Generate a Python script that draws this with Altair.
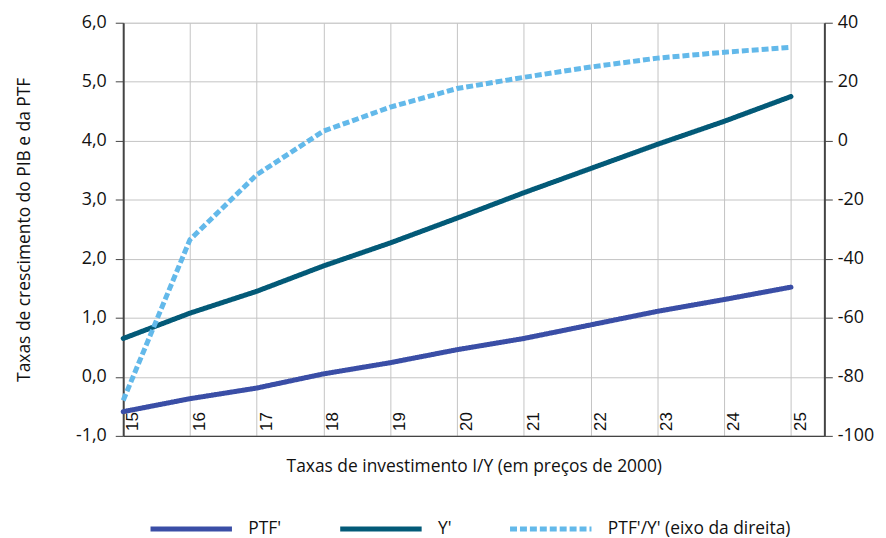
import altair as alt
import pandas as pd

years = [15, 16, 17, 18, 19, 20, 21, 22, 23, 24, 25]
ptf = [-0.59, -0.37, -0.19, 0.05, 0.24, 0.46, 0.65, 0.88, 1.11, 1.31, 1.52]
yprime = [0.65, 1.08, 1.45, 1.88, 2.27, 2.69, 3.12, 3.53, 3.94, 4.33, 4.75]
ratio = [-88.0, -33.5, -11.5, 3.3, 11.4, 17.7, 21.5, 25.0, 28.0, 30.0, 31.7]

series = ["PTF'", "Y'", "PTF'/Y' (eixo da direita)"]
colors = ["#3a4ea6", "#035a78", "#63b9ea"]
dashes = [[1, 0], [1, 0], [7, 3]]
left_ticks = [-1, 0, 1, 2, 3, 4, 5, 6]
right_ticks = [-100, -80, -60, -40, -20, 0, 20, 40]

left_df = pd.DataFrame(
    {"x": years * 2, "v": ptf + yprime, "s": [series[0]] * len(years) + [series[1]] * len(years)}
)
right_df = pd.DataFrame({"x": years, "v": ratio, "s": [series[2]] * len(years)})
lab_df = pd.DataFrame({"x": years, "t": [str(y) for y in years]})

FONT = "Open Sans"
TXT = "#111"

xscale = alt.Scale(domain=[15, 25.5], nice=False, zero=False)
xaxis = alt.Axis(
    values=years, grid=True, labels=False, ticks=False,
    title="Taxas de investimento I/Y (em preços de 2000)",
    titlePadding=22, titleFontSize=17.5, titleFont=FONT, titleFontWeight="normal",
    titleColor=TXT, domainColor="#444", domainWidth=1.5,
    gridColor="#c4c4c4", gridWidth=1,
)

leg = alt.Legend(
    title=None, orient="none", legendX=25, legendY=466, direction="horizontal",
    symbolType="stroke", symbolSize=6724, symbolStrokeWidth=5,
    labelFont=FONT, labelFontSize=17.5, labelColor=TXT, labelOffset=14,
    labelLimit=400, columnPadding=48, padding=0,
)
color = alt.Color("s:N", scale=alt.Scale(domain=series, range=colors), legend=leg)
dash = alt.StrokeDash("s:N", scale=alt.Scale(domain=series, range=dashes), legend=leg)

left = alt.Chart(left_df).mark_line(strokeWidth=5, strokeCap="round").encode(
    x=alt.X("x:Q", scale=xscale, axis=xaxis),
    y=alt.Y(
        "v:Q",
        scale=alt.Scale(domain=[-1, 6], nice=False, zero=False),
        axis=alt.Axis(
            values=left_ticks, orient="left", grid=True, gridColor="#c4c4c4",
            labelExpr="(datum.value < 0 ? '-' : '') + replace(format(abs(datum.value), '.1f'), '.', ',')",
            tickSize=8, tickColor="#444", labelPadding=9,
            labelFont=FONT, labelFontSize=18, labelColor=TXT,
            domainColor="#444", domainWidth=2,
            title="Taxas de crescimento do PIB e da PTF", titleFont=FONT,
            titleFontSize=17.5, titleFontWeight="normal", titleColor=TXT,
            titlePadding=42,
        ),
    ),
    color=color,
    strokeDash=dash,
    order=alt.Order("x:Q"),
)

right = alt.Chart(right_df).mark_line(strokeWidth=5, strokeCap="butt").encode(
    x=alt.X("x:Q", scale=xscale, axis=xaxis),
    y=alt.Y(
        "v:Q",
        scale=alt.Scale(domain=[-100, 40], nice=False, zero=False),
        axis=alt.Axis(
            values=right_ticks, orient="right", grid=False,
            labelExpr="(datum.value < 0 ? '-' : '') + format(abs(datum.value), 'd')",
            tickSize=8, tickColor="#444", labelPadding=5,
            labelFont=FONT, labelFontSize=18, labelColor=TXT,
            domainColor="#444", domainWidth=2, title=None,
        ),
    ),
    color=color,
    strokeDash=dash,
    order=alt.Order("x:Q"),
)

labels = alt.Chart(lab_df).mark_text(
    angle=270, align="left", baseline="top", dy=2,
    font="Liberation Sans", fontSize=17, color=TXT,
).encode(
    x=alt.X("x:Q", scale=xscale),
    y=alt.value(411),
    text="t:N",
)

chart = (
    alt.layer(left, right, labels)
    .resolve_scale(y="independent")
    .properties(
        width=706, height=416,
        autosize=alt.AutoSizeParams(type="none"),
        padding={"left": 116, "top": 13, "right": 54, "bottom": 101},
    )
    .configure_view(stroke="#555", strokeWidth=1.5)
    .configure(background="white")
)

chart.save("out.html", embed_options={"renderer": "svg", "actions": False})
